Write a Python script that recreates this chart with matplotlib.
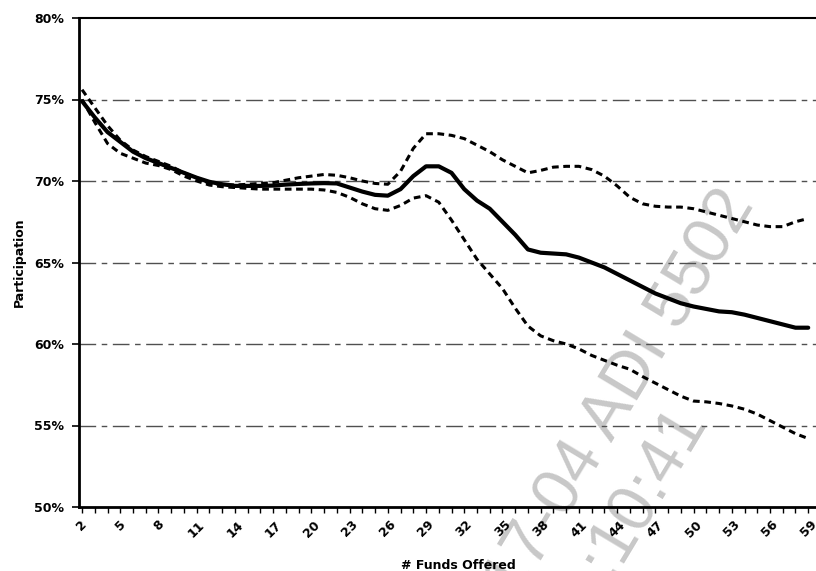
import matplotlib.pyplot as plt
import numpy as np

# numero de fundos oferecidos (eixo x)
funds = list(range(2, 60))

# participacao media (linha solida), em %
mean_part = [74.9, 73.9, 73.0, 72.4, 71.8, 71.4, 71.1, 70.8, 70.5, 70.2,
             69.95, 69.8, 69.7, 69.7, 69.7, 69.72, 69.78, 69.82, 69.85, 69.87,
             69.85, 69.6, 69.35, 69.15, 69.1, 69.5, 70.3, 70.9, 70.9, 70.5,
             69.5, 68.8, 68.3, 67.5, 66.7, 65.8, 65.6, 65.55, 65.5, 65.3,
             65.0, 64.7, 64.3, 63.9, 63.5, 63.1, 62.8, 62.5, 62.3, 62.15,
             62.0, 61.95, 61.8, 61.6, 61.4, 61.2, 61.0, 61.0]

# banda superior (pontilhada)
upper_part = [75.6, 74.5, 73.4, 72.5, 71.9, 71.5, 71.2, 70.9, 70.5, 70.2,
              69.85, 69.8, 69.75, 69.8, 69.85, 69.9, 70.05, 70.2, 70.3, 70.4,
              70.35, 70.2, 70.0, 69.85, 69.8, 70.6, 72.0, 72.9, 72.9, 72.8,
              72.6, 72.2, 71.8, 71.3, 70.9, 70.5, 70.65, 70.85, 70.9, 70.9,
              70.7, 70.3, 69.7, 69.0, 68.6, 68.45, 68.4, 68.4, 68.3, 68.1,
              67.9, 67.7, 67.5, 67.3, 67.2, 67.2, 67.5, 67.7]

# banda inferior (pontilhada)
lower_part = [75.0, 73.6, 72.3, 71.7, 71.4, 71.1, 70.95, 70.7, 70.3, 70.0,
              69.75, 69.65, 69.6, 69.55, 69.5, 69.5, 69.5, 69.5, 69.5, 69.45,
              69.3, 69.0, 68.6, 68.3, 68.2, 68.5, 68.95, 69.1, 68.7, 67.6,
              66.4, 65.2, 64.3, 63.4, 62.2, 61.1, 60.5, 60.2, 60.0, 59.7,
              59.3, 59.0, 58.7, 58.45, 58.0, 57.6, 57.2, 56.8, 56.5, 56.45,
              56.35, 56.2, 56.0, 55.7, 55.3, 54.9, 54.5, 54.2]

y_ticks = [50, 55, 60, 65, 70, 75, 80]
x_ticks = list(range(2, 60, 3))

plt.rcParams['font.family'] = ['DejaVu Sans']

fig = plt.figure(figsize=(8.16, 5.71), dpi=100)
# o eixo passa da borda direita (grafico recortado)
ax = fig.add_axes([79 / 816, 1 - 507 / 571, (837 - 79) / 816, (507 - 18) / 571])
ax.patch.set_alpha(0)

# marca d'agua (atras das linhas)
fig.text(756 / 816, 1 - 205 / 571, '2017-04 ADI 5502', fontsize=48, color='#c8c8c8',
         family='Liberation Sans', rotation=59, rotation_mode='anchor',
         ha='right', va='baseline', zorder=-1)
fig.text(706 / 816, 1 - 419 / 571, ':10:41', fontsize=48, color='#c8c8c8',
         family='Liberation Sans', rotation=59, rotation_mode='anchor',
         ha='right', va='baseline', zorder=-1)

# linhas de grade traco-ponto
for v in y_ticks[1:-1]:
    ax.axhline(v, color='#505050', lw=1.0, dashes=(12, 4, 4, 4), zorder=1)

ax.plot(funds, mean_part, color='black', lw=3.0, solid_joinstyle='round',
        solid_capstyle='round', zorder=3)
ax.plot(funds, upper_part, color='black', lw=2.2, dashes=(2.2, 1.5), zorder=2)
ax.plot(funds, lower_part, color='black', lw=2.2, dashes=(2.2, 1.5), zorder=2)

ax.set_xlim(1.76, 61.26)
ax.set_ylim(50, 80)

ax.set_yticks(y_ticks)
ax.set_yticklabels([f'{v}%' for v in y_ticks], fontsize=9, fontweight='bold')
ax.set_xticks(x_ticks)
ax.set_xticklabels([str(v) for v in x_ticks], fontsize=9, fontweight='bold', rotation=45)
ax.set_xticks(list(range(2, 62)), minor=True)
ax.tick_params(axis='y', length=5, width=1.2, pad=6)
ax.tick_params(axis='x', which='both', length=4, width=1.0, pad=4)

ax.spines['right'].set_visible(False)
ax.spines['left'].set_linewidth(2.0)
ax.spines['bottom'].set_linewidth(2.0)
ax.spines['top'].set_linewidth(1.5)

ax.set_ylabel('Participation', fontsize=9, fontweight='bold', labelpad=6)
ax.set_xlabel('# Funds Offered', fontsize=9, fontweight='bold', labelpad=14)

plt.savefig('out.png', dpi=100)
